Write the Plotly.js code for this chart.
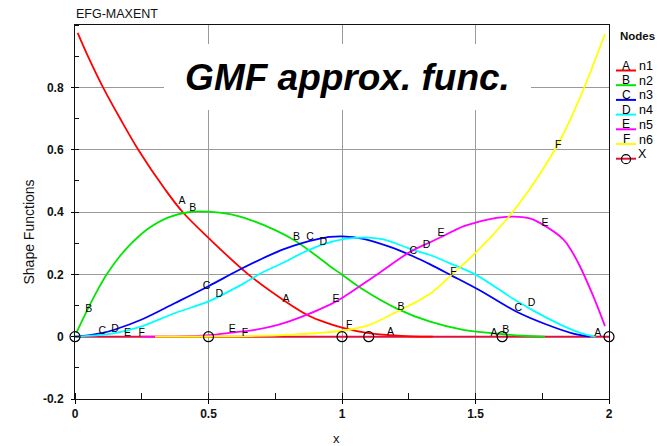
<!DOCTYPE html>
<html>
<head>
<meta charset="utf-8">
<script src="https://cdn.plot.ly/plotly-3.0.1.min.js"></script>
<style>html,body{margin:0;padding:0;background:#fff;}#chart{width:660px;height:446px;}</style>
</head>
<body>
<div id="chart"></div>
<script>
// ---- data ----
const seriesNames = ['n1','n2','n3','n4','n5','n6'];
const seriesLetters = ['A','B','C','D','E','F'];

const n1_x = [0.01, 0.05, 0.105, 0.169, 0.237, 0.337, 0.403, 0.5, 0.649, 0.78, 0.874, 0.94, 1.0, 1.093, 1.18, 1.26, 1.34];
const n1_y = [0.975, 0.897, 0.80, 0.70, 0.60, 0.473, 0.40, 0.317, 0.20, 0.118, 0.068, 0.045, 0.029, 0.012, 0.005, 0.001, 0];

const n2_x = [0.005, 0.04, 0.08, 0.119, 0.165, 0.212, 0.28, 0.35, 0.43, 0.5, 0.58, 0.655, 0.75, 0.82, 0.9, 0.955, 1.0, 1.079, 1.205, 1.33, 1.454, 1.58, 1.68, 1.76];
const n2_y = [0.012, 0.075, 0.142, 0.20, 0.255, 0.30, 0.35, 0.383, 0.40, 0.401, 0.393, 0.375, 0.342, 0.31, 0.262, 0.226, 0.199, 0.151, 0.09, 0.048, 0.022, 0.01, 0.003, 0];

const n3_x = [0.0, 0.05, 0.1, 0.15, 0.25, 0.375, 0.5, 0.612, 0.7, 0.78, 0.85, 0.905, 0.955, 1.0, 1.08, 1.18, 1.266, 1.33, 1.411, 1.517, 1.654, 1.766, 1.866, 1.93];
const n3_y = [0.0, 0.004, 0.011, 0.023, 0.055, 0.108, 0.162, 0.213, 0.25, 0.28, 0.30, 0.312, 0.320, 0.322, 0.314, 0.288, 0.258, 0.232, 0.196, 0.148, 0.08, 0.039, 0.010, 0.0];

const n4_x = [0.0, 0.08, 0.15, 0.25, 0.375, 0.5, 0.624, 0.7, 0.78, 0.855, 0.93, 1.0, 1.055, 1.1, 1.155, 1.255, 1.33, 1.4, 1.5, 1.644, 1.72, 1.82, 1.9, 1.95];
const n4_y = [0.0, 0.004, 0.011, 0.033, 0.076, 0.113, 0.167, 0.205, 0.237, 0.27, 0.296, 0.312, 0.317, 0.318, 0.312, 0.282, 0.262, 0.237, 0.199, 0.12, 0.082, 0.038, 0.01, 0.0];

const n5_x = [0.25, 0.4, 0.5, 0.587, 0.674, 0.76, 0.843, 0.955, 1.0, 1.13, 1.255, 1.33, 1.367, 1.454, 1.5, 1.579, 1.642, 1.7, 1.741, 1.829, 1.86, 1.891, 1.941, 1.985];
const n5_y = [0.0, 0.001, 0.005, 0.013, 0.022, 0.038, 0.062, 0.103, 0.124, 0.199, 0.272, 0.303, 0.318, 0.354, 0.366, 0.381, 0.385, 0.38, 0.365, 0.312, 0.275, 0.226, 0.13, 0.034];

const n6_x = [0.3, 0.5, 0.655, 0.8, 0.9, 1.0, 1.1, 1.205, 1.33, 1.416, 1.504, 1.62, 1.7, 1.804, 1.854, 1.91, 1.985];
const n6_y = [0.0, 0.0005, 0.002, 0.006, 0.011, 0.019, 0.037, 0.08, 0.138, 0.203, 0.272, 0.38, 0.47, 0.61, 0.695, 0.805, 0.971];

// node positions (trace "X")
const nodes_x = [0, 0.5, 1, 1.1, 1.6, 2];
const nodes_y = [0, 0, 0, 0, 0, 0];

// curve label letters (centres, data units)
const labA_x = [0.401, 0.790, 1.182, 1.569, 1.958];
const labA_y = [0.434, 0.121, 0.014, 0.011, 0.010];
const labB_x = [0.052, 0.441, 0.830, 1.221, 1.613];
const labB_y = [0.087, 0.412, 0.317, 0.095, 0.020];
const labC_x = [0.102, 0.493, 0.880, 1.267, 1.660];
const labC_y = [0.017, 0.162, 0.319, 0.274, 0.092];
const labD_x = [0.150, 0.540, 0.930, 1.317, 1.710];
const labD_y = [0.023, 0.137, 0.301, 0.293, 0.106];
const labE_x = [0.197, 0.589, 0.978, 1.371, 1.760];
const labE_y = [0.010, 0.025, 0.121, 0.333, 0.363];
const labF_x = [0.250, 0.637, 1.027, 1.417, 1.810];
const labF_y = [0.010, 0.010, 0.035, 0.207, 0.614];

const xTickVals = [0, 0.5, 1, 1.5, 2];
const xTickText = ['0', '0.5', '1', '1.5', '2'];
const yTickVals = [-0.2, 0, 0.2, 0.4, 0.6, 0.8];
const yTickText = ['-0.2', '0', '0.2', '0.4', '0.6', '0.8'];

// ---- styling ----
const colors = ['#ff0000', '#00e600', '#0000ff', '#00ffff', '#ff00ff', '#ffff00'];
const nodeLineColor = '#e0103c';
const FONT = 'Liberation Sans, Arial, Helvetica, sans-serif';

const curveX = [n1_x, n2_x, n3_x, n4_x, n5_x, n6_x];
const curveY = [n1_y, n2_y, n3_y, n4_y, n5_y, n6_y];
const labX = [labA_x, labB_x, labC_x, labD_x, labE_x, labF_x];
const labY = [labA_y, labB_y, labC_y, labD_y, labE_y, labF_y];

const traces = [];
traces.push({
  x: nodes_x, y: nodes_y, name: 'X', type: 'scatter', mode: 'lines',
  line: {color: nodeLineColor, width: 2}, showlegend: false, hoverinfo: 'skip'
});
for (let i = 0; i < 6; i++) {
  traces.push({
    x: curveX[i], y: curveY[i], name: seriesNames[i], type: 'scatter', mode: 'lines',
    line: {color: colors[i], width: 1.8, shape: 'spline', smoothing: 1},
    showlegend: false
  });
}
traces.push({
  x: nodes_x, y: nodes_y, name: 'X nodes', type: 'scatter', mode: 'markers',
  marker: {symbol: 'circle-open', size: 10, color: '#000', line: {width: 1.2, color: '#000'}},
  showlegend: false, hoverinfo: 'skip', cliponaxis: false
});
for (let i = 0; i < 6; i++) {
  traces.push({
    x: labX[i], y: labY[i], type: 'scatter', mode: 'text',
    text: labX[i].map(() => seriesLetters[i]), textposition: 'middle center',
    textfont: {family: FONT, size: 10.5, color: '#000'},
    showlegend: false, hoverinfo: 'skip', cliponaxis: false
  });
}

// pixel -> paper helpers (plot area: x 75..609, y 25..399)
const L = 75, R = 51, T = 25, B = 47, W = 660, H = 446;
const pw = W - L - R, ph = H - T - B;
const px = v => (v - L) / pw;
const py = v => (H - B - v) / ph;

const annotations = [
  {text: 'EFG-MAXENT', xref: 'paper', yref: 'paper', x: px(74), y: py(14),
   xanchor: 'left', yanchor: 'middle', showarrow: false,
   font: {family: FONT, size: 12.5, color: '#111'}},
  {text: 'GMF approx. func.', xref: 'paper', yref: 'paper', x: px(347.5), y: py(77),
   xanchor: 'center', yanchor: 'middle', showarrow: false,
   width: 367, height: 66, bgcolor: '#ffffff', borderwidth: 0, borderpad: 0,
   font: {family: FONT, size: 37, color: '#000', weight: 'bold', style: 'italic'}},
  {text: 'Shape Functions', xref: 'paper', yref: 'paper', x: px(28), y: py(231.5),
   xanchor: 'center', yanchor: 'middle', textangle: -90, showarrow: false,
   font: {family: FONT, size: 14, color: '#111'}},
  {text: 'x', xref: 'paper', yref: 'paper', x: px(336), y: py(438),
   xanchor: 'center', yanchor: 'middle', showarrow: false, borderpad: 0, borderwidth: 0,
   font: {family: FONT, size: 13, color: '#111'}},
  {text: 'Nodes', xref: 'paper', yref: 'paper', x: px(637), y: py(36),
   xanchor: 'center', yanchor: 'middle', showarrow: false,
   font: {family: FONT, size: 11.5, color: '#111', weight: 'bold'}}
];
const shapes = [];
const rowY = [70.5, 85.2, 99.9, 114.6, 129.3, 144, 158.7];
for (let i = 0; i < 6; i++) {
  shapes.push({type: 'line', xref: 'paper', yref: 'paper',
    x0: px(616), x1: px(636), y0: py(rowY[i]), y1: py(rowY[i]),
    line: {color: colors[i], width: 2}});
  annotations.push({text: seriesLetters[i], xref: 'paper', yref: 'paper',
    x: px(626), y: py(rowY[i] - 5), xanchor: 'center', yanchor: 'middle', showarrow: false,
    font: {family: FONT, size: 12, color: '#000'}});
  annotations.push({text: seriesNames[i], xref: 'paper', yref: 'paper',
    x: px(637), y: py(rowY[i] - 4.5), xanchor: 'left', yanchor: 'middle', showarrow: false,
    font: {family: FONT, size: 12.5, color: '#000'}});
}
shapes.push({type: 'line', xref: 'paper', yref: 'paper',
  x0: px(616), x1: px(636), y0: py(rowY[6]), y1: py(rowY[6]),
  line: {color: nodeLineColor, width: 2}});
shapes.push({type: 'circle', xref: 'paper', yref: 'paper', xsizemode: 'pixel', ysizemode: 'pixel',
  xanchor: px(626), yanchor: py(rowY[6] + 0.5), x0: -4.5, x1: 4.5, y0: -4.5, y1: 4.5,
  line: {color: '#000', width: 1.2}});
annotations.push({text: 'X', xref: 'paper', yref: 'paper', x: px(636), y: py(rowY[6] - 5),
  xanchor: 'left', yanchor: 'middle', showarrow: false,
  font: {family: FONT, size: 12.5, color: '#000'}});

const layout = {
  width: W, height: H,
  margin: {l: L, r: R, t: T, b: B, pad: 0},
  paper_bgcolor: '#fff', plot_bgcolor: '#fff',
  font: {family: FONT, size: 12, color: '#000'},
  showlegend: false,
  xaxis: {
    range: [0, 2], tickmode: 'array', tickvals: xTickVals, ticktext: xTickText,
    ticks: 'outside', ticklen: 4, tickcolor: '#000', tickwidth: 1,
    showline: true, linecolor: '#111', linewidth: 1, mirror: true,
    showgrid: true, gridcolor: '#9a9a9a', gridwidth: 1, zeroline: false,
    tickfont: {family: FONT, size: 12, color: '#111', weight: 'bold'},
    minor: {tickmode: 'linear', tick0: 0, dtick: 0.25, ticks: 'inside', ticklen: 6, tickcolor: '#111', showgrid: false}
  },
  yaxis: {
    range: [-0.2, 1.0], tickmode: 'array', tickvals: yTickVals, ticktext: yTickText,
    ticks: 'outside', ticklen: 3, tickcolor: '#000', tickwidth: 1,
    showline: true, linecolor: '#111', linewidth: 1, mirror: true,
    showgrid: true, gridcolor: '#9a9a9a', gridwidth: 1, zeroline: false,
    ticklabelstandoff: 5,
    tickfont: {family: FONT, size: 12, color: '#111', weight: 'bold'},
    minor: {tickmode: 'linear', tick0: 0, dtick: 0.1, ticks: 'inside', ticklen: 4, tickcolor: '#111', showgrid: false}
  },
  annotations: annotations,
  shapes: shapes
};

Plotly.newPlot('chart', traces, layout, {displayModeBar: false, staticPlot: true});
</script>
</body>
</html>
